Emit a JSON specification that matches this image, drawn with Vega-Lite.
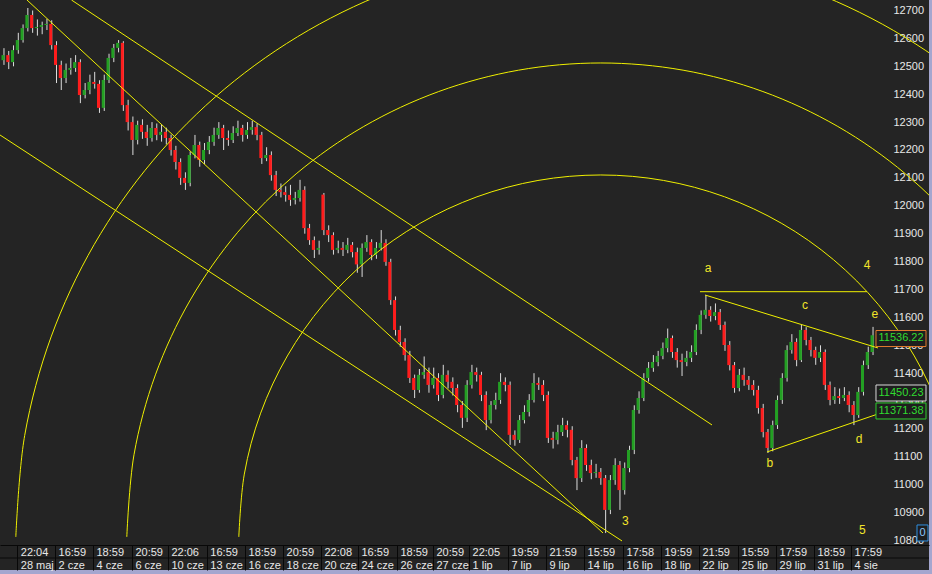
{
"$schema":"https://vega.github.io/schema/vega-lite/v6.json",
"width":929,"height":570,
"autosize":{"type":"none"},
"padding":{"left":0,"top":0,"right":3,"bottom":4},
"background":"#a4a6cf",
"config":{"view":{"fill":"#242424","stroke":null},"axis":{"labelOverlap":false},
 "axisX":{"orient":"bottom","offset":-25,"title":null,"grid":false,"tickSize":25,"tickColor":"#080808","domainColor":"#080808","labelAlign":"left","labelBaseline":"top","labelPadding":-24,"labelOffset":3,"labelColor":"#e8e8e8","labelFont":"Liberation Sans","labelFontSize":11,"labelLineHeight":13,"labelOverlap":false,"labelFlush":false,"labelBound":false},
 "axisY":{"orient":"right","offset":-36,"title":null,"grid":false,"ticks":false,"domain":false,"labelPadding":0,"format":"d","labelColor":"#e8e8e8","labelFont":"Liberation Sans","labelFontSize":11,"labelAlign":"left","labelBaseline":"middle","labelOverlap":false,"labelFlush":false,"labelBound":false}},
"datasets":{
"candles":[
{"t":-3,"o":12522,"h":12565,"l":12505,"c":12540},{"t":-2,"o":12540,"h":12555,"l":12490,"c":12515},{"t":-1,"o":12515,"h":12575,"l":12500,"c":12558},{"t":0,"o":12558,"h":12620,"l":12545,"c":12594},{"t":1,"o":12594,"h":12650,"l":12585,"c":12637},{"t":2,"o":12637,"h":12709,"l":12625,"c":12684},{"t":3,"o":12684,"h":12700,"l":12620,"c":12637},{"t":4,"o":12637,"h":12668,"l":12610,"c":12641},{"t":5,"o":12641,"h":12660,"l":12615,"c":12648},{"t":6,"o":12648,"h":12670,"l":12630,"c":12652},
{"t":7,"o":12652,"h":12665,"l":12560,"c":12576},{"t":8,"o":12576,"h":12590,"l":12440,"c":12505},{"t":9,"o":12505,"h":12520,"l":12415,"c":12458},{"t":10,"o":12458,"h":12510,"l":12440,"c":12487},{"t":11,"o":12487,"h":12530,"l":12470,"c":12494},{"t":12,"o":12494,"h":12540,"l":12480,"c":12515},{"t":13,"o":12515,"h":12525,"l":12368,"c":12397},{"t":14,"o":12397,"h":12440,"l":12385,"c":12415},{"t":15,"o":12415,"h":12470,"l":12400,"c":12444},{"t":16,"o":12444,"h":12480,"l":12420,"c":12437},
{"t":17,"o":12437,"h":12450,"l":12333,"c":12351},{"t":18,"o":12351,"h":12470,"l":12340,"c":12451},{"t":19,"o":12451,"h":12545,"l":12440,"c":12530},{"t":20,"o":12530,"h":12580,"l":12515,"c":12566},{"t":21,"o":12566,"h":12594,"l":12550,"c":12584},{"t":22,"o":12584,"h":12590,"l":12340,"c":12361},{"t":23,"o":12361,"h":12380,"l":12270,"c":12300},{"t":24,"o":12300,"h":12320,"l":12182,"c":12236},{"t":25,"o":12236,"h":12305,"l":12220,"c":12290},{"t":26,"o":12290,"h":12310,"l":12240,"c":12265},
{"t":27,"o":12265,"h":12290,"l":12215,"c":12243},{"t":28,"o":12243,"h":12300,"l":12230,"c":12279},{"t":29,"o":12279,"h":12295,"l":12235,"c":12254},{"t":30,"o":12254,"h":12290,"l":12230,"c":12265},{"t":31,"o":12265,"h":12280,"l":12220,"c":12243},{"t":32,"o":12243,"h":12255,"l":12180,"c":12200},{"t":33,"o":12200,"h":12215,"l":12130,"c":12157},{"t":34,"o":12157,"h":12170,"l":12075,"c":12100},{"t":35,"o":12100,"h":12120,"l":12057,"c":12082},{"t":36,"o":12082,"h":12195,"l":12070,"c":12182},
{"t":37,"o":12182,"h":12254,"l":12170,"c":12218},{"t":38,"o":12218,"h":12230,"l":12140,"c":12164},{"t":39,"o":12164,"h":12225,"l":12150,"c":12200},{"t":40,"o":12200,"h":12250,"l":12185,"c":12229},{"t":41,"o":12229,"h":12280,"l":12215,"c":12254},{"t":42,"o":12254,"h":12300,"l":12240,"c":12279},{"t":43,"o":12279,"h":12290,"l":12200,"c":12243},{"t":44,"o":12243,"h":12270,"l":12215,"c":12236},{"t":45,"o":12236,"h":12285,"l":12225,"c":12261},{"t":46,"o":12261,"h":12305,"l":12250,"c":12279},
{"t":47,"o":12279,"h":12290,"l":12230,"c":12254},{"t":48,"o":12254,"h":12300,"l":12240,"c":12272},{"t":49,"o":12272,"h":12305,"l":12255,"c":12282},{"t":50,"o":12282,"h":12295,"l":12235,"c":12254},{"t":51,"o":12254,"h":12265,"l":12150,"c":12171},{"t":52,"o":12171,"h":12210,"l":12160,"c":12182},{"t":53,"o":12182,"h":12195,"l":12090,"c":12110},{"t":54,"o":12110,"h":12125,"l":12035,"c":12057},{"t":55,"o":12057,"h":12080,"l":12030,"c":12049},{"t":56,"o":12049,"h":12070,"l":12015,"c":12039},
{"t":57,"o":12039,"h":12075,"l":12000,"c":12021},{"t":58,"o":12021,"h":12050,"l":12005,"c":12028},{"t":59,"o":12028,"h":12093,"l":12015,"c":12057},{"t":60,"o":12057,"h":12070,"l":11900,"c":11920},{"t":61,"o":11920,"h":11935,"l":11860,"c":11877},{"t":62,"o":11877,"h":11890,"l":11813,"c":11842},{"t":63,"o":11842,"h":11875,"l":11825,"c":11849},{"t":64,"o":12040,"h":12046,"l":11895,"c":11913},{"t":65,"o":11913,"h":11930,"l":11870,"c":11895},{"t":66,"o":11895,"h":11905,"l":11825,"c":11842},
{"t":67,"o":11842,"h":11875,"l":11830,"c":11849},{"t":68,"o":11849,"h":11870,"l":11820,"c":11842},{"t":69,"o":11842,"h":11885,"l":11830,"c":11860},{"t":70,"o":11860,"h":11870,"l":11815,"c":11834},{"t":71,"o":11834,"h":11850,"l":11760,"c":11790},{"t":72,"o":11790,"h":11865,"l":11745,"c":11849},{"t":73,"o":11849,"h":11895,"l":11835,"c":11870},{"t":74,"o":11870,"h":11880,"l":11805,"c":11824},{"t":75,"o":11824,"h":11870,"l":11810,"c":11849},{"t":76,"o":11849,"h":11913,"l":11840,"c":11867},
{"t":77,"o":11867,"h":11880,"l":11785,"c":11799},{"t":78,"o":11799,"h":11810,"l":11645,"c":11662},{"t":79,"o":11662,"h":11675,"l":11535,"c":11555},{"t":80,"o":11555,"h":11570,"l":11495,"c":11512},{"t":81,"o":11512,"h":11525,"l":11445,"c":11465},{"t":82,"o":11465,"h":11480,"l":11365,"c":11383},{"t":83,"o":11383,"h":11395,"l":11311,"c":11340},{"t":84,"o":11340,"h":11415,"l":11330,"c":11394},{"t":85,"o":11394,"h":11460,"l":11380,"c":11404},{"t":86,"o":11404,"h":11420,"l":11330,"c":11358},
{"t":87,"o":11358,"h":11420,"l":11345,"c":11383},{"t":88,"o":11383,"h":11400,"l":11300,"c":11322},{"t":89,"o":11322,"h":11430,"l":11310,"c":11394},{"t":90,"o":11394,"h":11410,"l":11345,"c":11369},{"t":91,"o":11369,"h":11385,"l":11320,"c":11347},{"t":92,"o":11347,"h":11360,"l":11260,"c":11286},{"t":93,"o":11286,"h":11300,"l":11204,"c":11240},{"t":94,"o":11240,"h":11375,"l":11225,"c":11358},{"t":95,"o":11358,"h":11430,"l":11345,"c":11404},{"t":96,"o":11404,"h":11420,"l":11370,"c":11394},
{"t":97,"o":11394,"h":11405,"l":11300,"c":11322},{"t":98,"o":11322,"h":11335,"l":11196,"c":11232},{"t":99,"o":11232,"h":11300,"l":11220,"c":11286},{"t":100,"o":11286,"h":11330,"l":11270,"c":11304},{"t":101,"o":11304,"h":11400,"l":11290,"c":11369},{"t":102,"o":11369,"h":11385,"l":11335,"c":11358},{"t":103,"o":11358,"h":11370,"l":11143,"c":11179},{"t":104,"o":11179,"h":11195,"l":11140,"c":11161},{"t":105,"o":11161,"h":11250,"l":11150,"c":11232},{"t":106,"o":11232,"h":11285,"l":11220,"c":11261},
{"t":107,"o":11261,"h":11325,"l":11245,"c":11304},{"t":108,"o":11304,"h":11400,"l":11295,"c":11365},{"t":109,"o":11365,"h":11385,"l":11340,"c":11358},{"t":110,"o":11358,"h":11375,"l":11300,"c":11322},{"t":111,"o":11322,"h":11335,"l":11150,"c":11168},{"t":112,"o":11168,"h":11190,"l":11130,"c":11161},{"t":113,"o":11161,"h":11215,"l":11145,"c":11189},{"t":114,"o":11189,"h":11240,"l":11175,"c":11214},{"t":115,"o":11214,"h":11230,"l":11170,"c":11197},{"t":116,"o":11197,"h":11210,"l":11070,"c":11089},
{"t":117,"o":11089,"h":11100,"l":10981,"c":11024},{"t":118,"o":11024,"h":11160,"l":11010,"c":11132},{"t":119,"o":11132,"h":11145,"l":11050,"c":11071},{"t":120,"o":11071,"h":11090,"l":11020,"c":11042},{"t":121,"o":11042,"h":11075,"l":11025,"c":11046},{"t":122,"o":11046,"h":11060,"l":11000,"c":11024},{"t":123,"o":11024,"h":11035,"l":10827,"c":10910},{"t":124,"o":10910,"h":11035,"l":10895,"c":11017},{"t":125,"o":11017,"h":11095,"l":11000,"c":11071},{"t":126,"o":11071,"h":11085,"l":10910,"c":10981},
{"t":127,"o":10981,"h":11080,"l":10965,"c":11060},{"t":128,"o":11060,"h":11140,"l":11045,"c":11125},{"t":129,"o":11125,"h":11285,"l":11110,"c":11268},{"t":130,"o":11268,"h":11335,"l":11255,"c":11311},{"t":131,"o":11311,"h":11400,"l":11300,"c":11383},{"t":132,"o":11383,"h":11440,"l":11370,"c":11419},{"t":133,"o":11419,"h":11465,"l":11405,"c":11440},{"t":134,"o":11440,"h":11480,"l":11425,"c":11462},{"t":135,"o":11462,"h":11510,"l":11450,"c":11490},{"t":136,"o":11490,"h":11560,"l":11475,"c":11526},
{"t":137,"o":11526,"h":11535,"l":11455,"c":11476},{"t":138,"o":11476,"h":11490,"l":11420,"c":11447},{"t":139,"o":11447,"h":11470,"l":11390,"c":11440},{"t":140,"o":11440,"h":11480,"l":11425,"c":11455},{"t":141,"o":11455,"h":11500,"l":11440,"c":11476},{"t":142,"o":11476,"h":11575,"l":11465,"c":11555},{"t":143,"o":11555,"h":11625,"l":11540,"c":11609},{"t":144,"o":11609,"h":11680,"l":11595,"c":11627},{"t":145,"o":11627,"h":11640,"l":11585,"c":11605},{"t":146,"o":11605,"h":11650,"l":11590,"c":11619},
{"t":147,"o":11619,"h":11630,"l":11555,"c":11573},{"t":148,"o":11573,"h":11585,"l":11480,"c":11501},{"t":149,"o":11501,"h":11515,"l":11410,"c":11429},{"t":150,"o":11429,"h":11440,"l":11330,"c":11347},{"t":151,"o":11347,"h":11415,"l":11335,"c":11394},{"t":152,"o":11394,"h":11420,"l":11355,"c":11376},{"t":153,"o":11376,"h":11390,"l":11340,"c":11358},{"t":154,"o":11358,"h":11375,"l":11320,"c":11340},{"t":155,"o":11340,"h":11355,"l":11255,"c":11275},{"t":156,"o":11275,"h":11290,"l":11170,"c":11189},
{"t":157,"o":11189,"h":11200,"l":11114,"c":11132},{"t":158,"o":11132,"h":11230,"l":11120,"c":11214},{"t":159,"o":11214,"h":11320,"l":11200,"c":11304},{"t":160,"o":11304,"h":11400,"l":11290,"c":11383},{"t":161,"o":11383,"h":11500,"l":11370,"c":11483},{"t":162,"o":11483,"h":11540,"l":11470,"c":11512},{"t":163,"o":11512,"h":11525,"l":11425,"c":11447},{"t":164,"o":11447,"h":11573,"l":11440,"c":11555},{"t":165,"o":11555,"h":11565,"l":11500,"c":11519},{"t":166,"o":11519,"h":11530,"l":11460,"c":11483},
{"t":167,"o":11483,"h":11495,"l":11430,"c":11455},{"t":168,"o":11455,"h":11500,"l":11440,"c":11476},{"t":169,"o":11476,"h":11485,"l":11340,"c":11358},{"t":170,"o":11358,"h":11370,"l":11285,"c":11304},{"t":171,"o":11304,"h":11350,"l":11290,"c":11318},{"t":172,"o":11318,"h":11345,"l":11290,"c":11311},{"t":173,"o":11311,"h":11350,"l":11300,"c":11322},{"t":174,"o":11322,"h":11335,"l":11260,"c":11286},{"t":175,"o":11286,"h":11300,"l":11214,"c":11250},{"t":176,"o":11250,"h":11350,"l":11240,"c":11333},
{"t":177,"o":11333,"h":11445,"l":11320,"c":11429},{"t":178,"o":11429,"h":11495,"l":11415,"c":11476},{"t":179,"o":11476,"h":11566,"l":11465,"c":11536}
],
"arcs":[
{"arc":1,"k":0,"t":46.39,"p":10813},{"arc":1,"k":1,"t":47.54,"p":11038.3},{"arc":1,"k":2,"t":50.96,"p":11256.7},{"arc":1,"k":3,"t":56.55,"p":11461.8},{"arc":1,"k":4,"t":64.13,"p":11647.0},{"arc":1,"k":5,"t":73.47,"p":11806.9},{"arc":1,"k":6,"t":84.29,"p":11936.6},{"arc":1,"k":7,"t":96.27,"p":12032.3},{"arc":1,"k":8,"t":109.04,"p":12090.8},{"arc":1,"k":9,"t":122.2,"p":12110.5},{"arc":1,"k":10,"t":135.36,"p":12090.8},{"arc":1,"k":11,"t":148.13,"p":12032.3},{"arc":1,"k":12,"t":160.11,"p":11936.6},{"arc":1,"k":13,"t":170.93,"p":11806.9},{"arc":1,"k":14,"t":180.27,"p":11647.0},{"arc":1,"k":15,"t":187.85,"p":11461.8},{"arc":1,"k":16,"t":193.44,"p":11256.7},{"arc":1,"k":17,"t":196.86,"p":11038.3},
{"arc":2,"k":0,"t":22.93,"p":10813},{"arc":2,"k":1,"t":24.44,"p":11107.9},{"arc":2,"k":2,"t":28.92,"p":11394.0},{"arc":2,"k":3,"t":36.23,"p":11662.5},{"arc":2,"k":4,"t":46.16,"p":11905.1},{"arc":2,"k":5,"t":58.39,"p":12114.4},{"arc":2,"k":6,"t":72.56,"p":12284.3},{"arc":2,"k":7,"t":88.25,"p":12409.5},{"arc":2,"k":8,"t":104.97,"p":12486.1},{"arc":2,"k":9,"t":122.2,"p":12511.9},{"arc":2,"k":10,"t":139.43,"p":12486.1},{"arc":2,"k":11,"t":156.15,"p":12409.5},{"arc":2,"k":12,"t":171.84,"p":12284.3},{"arc":2,"k":13,"t":186.01,"p":12114.4},{"arc":2,"k":14,"t":198.24,"p":11905.1},{"arc":2,"k":15,"t":208.17,"p":11662.5},
{"arc":3,"k":0,"t":-0.31,"p":10813},{"arc":3,"k":1,"t":1.55,"p":11177.0},{"arc":3,"k":2,"t":7.08,"p":11530.1},{"arc":3,"k":3,"t":16.11,"p":11861.4},{"arc":3,"k":4,"t":28.36,"p":12160.8},{"arc":3,"k":5,"t":43.45,"p":12419.2},{"arc":3,"k":6,"t":60.94,"p":12628.8},{"arc":3,"k":7,"t":80.30,"p":12783.4},{"arc":3,"k":8,"t":100.93,"p":12877.9},{"arc":3,"k":9,"t":122.2,"p":12909.8},{"arc":3,"k":10,"t":143.47,"p":12877.9},{"arc":3,"k":11,"t":164.10,"p":12783.4},{"arc":3,"k":12,"t":183.46,"p":12628.8},{"arc":3,"k":13,"t":200.95,"p":12419.2},{"arc":3,"k":14,"t":216.04,"p":12160.8}
],
"lines":[
{"id":"A","k":0,"t":11.35,"p":12737.6},{"id":"A","k":1,"t":145.49,"p":11214.4},
{"id":"B","k":0,"t":2.03,"p":12737.6},{"id":"B","k":1,"t":122.66,"p":10827.3},
{"id":"C","k":0,"t":-3.62,"p":12253.8},{"id":"C","k":1,"t":126.64,"p":10798.7},
{"id":"H","k":0,"t":142.97,"p":11692.1},{"id":"H","k":1,"t":177.95,"p":11692.1},
{"id":"U","k":0,"t":144.02,"p":11680.3},{"id":"U","k":1,"t":180.25,"p":11490.4},
{"id":"L","k":0,"t":157.0,"p":11117.6},{"id":"L","k":1,"t":180.25,"p":11253.9}
],
"waves":[
{"txt":"a","t":144.65,"p":11777},{"txt":"c","t":164.96,"p":11644},{"txt":"4","t":177.95,"p":11788},{"txt":"e","t":179.6,"p":11612},{"txt":"b","t":157.6,"p":11078},{"txt":"d","t":176.3,"p":11164},{"txt":"3","t":127.36,"p":10870},{"txt":"5","t":176.96,"p":10838}
],
"boxes":[
{"label":"11536.22","v":11524.4},{"label":"11450.23","v":11329},{"label":"11371.38","v":11264.6}
],
"zero":[{"label":"0","v":10827.3}]
},
"layer":[
{"data":{"name":"candles"},
 "mark":{"type":"rule","color":"#dcdcdc","strokeWidth":1,"xOffset":1},
 "encoding":{
  "x":{"field":"t","type":"quantitative","scale":{"domain":[-3.623,190.93],"nice":false,"zero":false},
   "axis":{"values":[0,7.9,15.85,24,31.55,39.7,47.7,55.65,63.6,71.35,79.5,87.05,94.6,102.75,110.7,118.7,126.85,134.8,142.75,150.95,158.9,166.85,174.6],
    "labelExpr":"[['22:04','16:59','18:59','20:59','22:06','16:59','18:59','20:59','22:08','16:59','18:59','20:59','22:05','19:59','21:59','15:59','17:58','19:59','21:59','15:59','17:59','18:59','17:59'][indexof([0,7.9,15.85,24,31.55,39.7,47.7,55.65,63.6,71.35,79.5,87.05,94.6,102.75,110.7,118.7,126.85,134.8,142.75,150.95,158.9,166.85,174.6],datum.value)], ['28 maj','2 cze','4 cze','6 cze','10 cze','13 cze','16 cze','18 cze','20 cze','24 cze','26 cze','27 cze','1 lip','7 lip','9 lip','14 lip','16 lip','18 lip','22 lip','25 lip','29 lip','31 lip','4 sie'][indexof([0,7.9,15.85,24,31.55,39.7,47.7,55.65,63.6,71.35,79.5,87.05,94.6,102.75,110.7,118.7,126.85,134.8,142.75,150.95,158.9,166.85,174.6],datum.value)]]"}},
  "y":{"field":"l","type":"quantitative","scale":{"domain":[10694.62,12737.63],"nice":false,"zero":false},
   "axis":{"values":[10800,10900,11000,11100,11200,11300,11400,11500,11600,11700,11800,11900,12000,12100,12200,12300,12400,12500,12600,12700]}},
  "y2":{"field":"h"}}},
{"data":{"name":"candles"},
 "mark":{"type":"rule","strokeWidth":3},
 "encoding":{
  "x":{"field":"t","type":"quantitative","axis":{"values":[0,7.9,15.85,24,31.55,39.7,47.7,55.65,63.6,71.35,79.5,87.05,94.6,102.75,110.7,118.7,126.85,134.8,142.75,150.95,158.9,166.85,174.6]}},
  "y":{"field":"o","type":"quantitative","axis":{"values":[10800,10900,11000,11100,11200,11300,11400,11500,11600,11700,11800,11900,12000,12100,12200,12300,12400,12500,12600,12700]}},
  "y2":{"field":"c"},
  "color":{"condition":{"test":"datum.c >= datum.o","value":"#23a023"},"value":"#ff1c1c"}}},
{"data":{"name":"arcs"},
 "mark":{"type":"line","color":"#f0f000","strokeWidth":1,"interpolate":"catmull-rom","clip":true},
 "encoding":{"x":{"field":"t","type":"quantitative","axis":{"values":[0,7.9,15.85,24,31.55,39.7,47.7,55.65,63.6,71.35,79.5,87.05,94.6,102.75,110.7,118.7,126.85,134.8,142.75,150.95,158.9,166.85,174.6]}},"y":{"field":"p","type":"quantitative","axis":{"values":[10800,10900,11000,11100,11200,11300,11400,11500,11600,11700,11800,11900,12000,12100,12200,12300,12400,12500,12600,12700]}},"detail":{"field":"arc"},"order":{"field":"k"}}},
{"data":{"name":"lines"},
 "mark":{"type":"line","color":"#f0f000","strokeWidth":1,"clip":true},
 "encoding":{"x":{"field":"t","type":"quantitative","axis":{"values":[0,7.9,15.85,24,31.55,39.7,47.7,55.65,63.6,71.35,79.5,87.05,94.6,102.75,110.7,118.7,126.85,134.8,142.75,150.95,158.9,166.85,174.6]}},"y":{"field":"p","type":"quantitative","axis":{"values":[10800,10900,11000,11100,11200,11300,11400,11500,11600,11700,11800,11900,12000,12100,12200,12300,12400,12500,12600,12700]}},"detail":{"field":"id"},"order":{"field":"k"}}},
{"data":{"name":"waves"},
 "mark":{"type":"text","color":"#f2e42a","font":"Liberation Sans","fontSize":12,"align":"center","baseline":"middle"},
 "encoding":{"x":{"field":"t","type":"quantitative","axis":{"values":[0,7.9,15.85,24,31.55,39.7,47.7,55.65,63.6,71.35,79.5,87.05,94.6,102.75,110.7,118.7,126.85,134.8,142.75,150.95,158.9,166.85,174.6]}},"y":{"field":"p","type":"quantitative","axis":{"values":[10800,10900,11000,11100,11200,11300,11400,11500,11600,11700,11800,11900,12000,12100,12200,12300,12400,12500,12600,12700]}},"text":{"field":"txt"}}},
{"data":{"name":"boxes"},
 "mark":{"type":"rect","fill":"#1e1e1e","strokeWidth":1,"yOffset":-8,"y2Offset":8},
 "encoding":{"x":{"datum":179.83,"type":"quantitative","axis":{"values":[0,7.9,15.85,24,31.55,39.7,47.7,55.65,63.6,71.35,79.5,87.05,94.6,102.75,110.7,118.7,126.85,134.8,142.75,150.95,158.9,166.85,174.6]}},"x2":{"datum":190.3},"y":{"field":"v","type":"quantitative","axis":{"values":[10800,10900,11000,11100,11200,11300,11400,11500,11600,11700,11800,11900,12000,12100,12200,12300,12400,12500,12600,12700]}},"y2":{"field":"v"},
  "stroke":{"field":"label","type":"nominal","scale":{"domain":["11536.22","11450.23","11371.38"],"range":["#e07a2e","#d8d8d8","#2ecc2e"]},"legend":null}}},
{"data":{"name":"boxes"},
 "mark":{"type":"text","color":"#30dc30","font":"Liberation Sans","fontSize":11,"align":"center","baseline":"middle"},
 "encoding":{"x":{"datum":185.07,"type":"quantitative","axis":{"values":[0,7.9,15.85,24,31.55,39.7,47.7,55.65,63.6,71.35,79.5,87.05,94.6,102.75,110.7,118.7,126.85,134.8,142.75,150.95,158.9,166.85,174.6]}},"y":{"field":"v","type":"quantitative","axis":{"values":[10800,10900,11000,11100,11200,11300,11400,11500,11600,11700,11800,11900,12000,12100,12200,12300,12400,12500,12600,12700]}},"text":{"field":"label"}}},
{"data":{"name":"zero"},
 "mark":{"type":"rect","fill":"#1e1e1e","stroke":"#2f8fe0","strokeWidth":1,"yOffset":-8,"y2Offset":8},
 "encoding":{"x":{"datum":188.42,"type":"quantitative","axis":{"values":[0,7.9,15.85,24,31.55,39.7,47.7,55.65,63.6,71.35,79.5,87.05,94.6,102.75,110.7,118.7,126.85,134.8,142.75,150.95,158.9,166.85,174.6]}},"x2":{"datum":190.72},"y":{"field":"v","type":"quantitative","axis":{"values":[10800,10900,11000,11100,11200,11300,11400,11500,11600,11700,11800,11900,12000,12100,12200,12300,12400,12500,12600,12700]}},"y2":{"field":"v"}}},
{"data":{"name":"zero"},
 "mark":{"type":"text","color":"#8cc8ff","font":"Liberation Sans","fontSize":11,"align":"center","baseline":"middle"},
 "encoding":{"x":{"datum":189.57,"type":"quantitative","axis":{"values":[0,7.9,15.85,24,31.55,39.7,47.7,55.65,63.6,71.35,79.5,87.05,94.6,102.75,110.7,118.7,126.85,134.8,142.75,150.95,158.9,166.85,174.6]}},"y":{"field":"v","type":"quantitative","axis":{"values":[10800,10900,11000,11100,11200,11300,11400,11500,11600,11700,11800,11900,12000,12100,12200,12300,12400,12500,12600,12700]}},"text":{"field":"label"}}},
{"data":{"values":[{"r":1}]},
 "mark":{"type":"rule","color":"#080808","strokeWidth":1},
 "encoding":{"y":{"datum":10737.6,"type":"quantitative","axis":{"values":[10800,10900,11000,11100,11200,11300,11400,11500,11600,11700,11800,11900,12000,12100,12200,12300,12400,12500,12600,12700]}}}}
]
}
